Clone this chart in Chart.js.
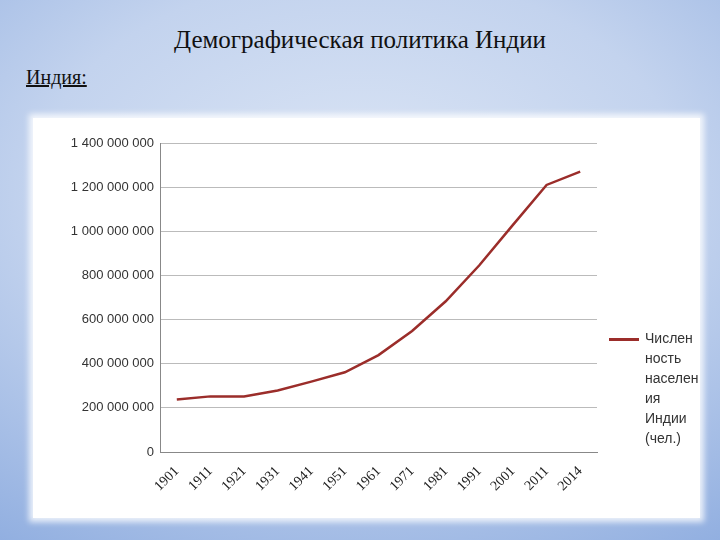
<!DOCTYPE html>
<html><head><meta charset="utf-8">
<script src="https://cdn.jsdelivr.net/npm/chart.js@4"></script>
<style>
html,body{margin:0;padding:0;}
body{width:720px;height:540px;position:relative;overflow:hidden;
background:radial-gradient(ellipse 90% 80% at 50% 35%,#dbe5f5 0%,#c3d3ee 50%,#90aee0 100%);
font-family:"Liberation Serif",serif;}
#title{position:absolute;top:26px;left:0;width:720px;text-align:center;font-size:25px;color:#111;}
#sub{position:absolute;top:66px;left:26px;font-size:20px;text-decoration:underline;color:#111;}
#box{position:absolute;left:33px;top:118px;width:667px;height:400px;background:#fff;box-shadow:0 0 6px 4px rgba(255,255,255,0.8);}
#legend{position:absolute;left:574px;top:210px;width:93px;overflow:hidden;font-family:"Liberation Sans",sans-serif;font-size:14px;line-height:20px;color:#333;white-space:nowrap;}
#legend i{position:absolute;left:2px;top:10px;width:30px;height:3px;background:#9b2d2a;}
#legend div{margin-left:38px;}
</style></head><body>
<div id="title">Демографическая политика Индии</div>
<div id="sub">Индия:</div>
<div id="box"><canvas id="c" width="667" height="400"></canvas>
<div id="legend"><i></i><div>Числен<br>ность<br>населен<br>ия<br>Индии<br>(чел.)</div></div></div>
<script>
const years = ['1901','1911','1921','1931','1941','1951','1961','1971','1981','1991','2001','2011','2014'];
const population = [238e6,252e6,251e6,279e6,319e6,361e6,439e6,548e6,683e6,846e6,1029e6,1210e6,1270e6];
const fmt = v => String(v).replace(/\B(?=(\d{3})+(?!\d))/g, ' ');
new Chart('c', {
  type: 'line',
  data: { labels: years, datasets: [{ label: 'Численность населения Индии (чел.)', data: population,
    borderColor: '#9b2d2a', borderWidth: 2.5, pointRadius: 0, tension: 0 }] },
  options: {
    responsive: false, animation: false,
    layout: { padding: { top: 25, right: 103, left: 0, bottom: 0 } },
    plugins: { legend: { display: false }, tooltip: { enabled: false } },
    scales: {
      x: { offset: true, grid: { display: false, drawTicks: true },
        border: { color: '#888' },
        ticks: { color: '#222', maxRotation: 45, minRotation: 45, font: { family: 'Liberation Serif', size: 14 } },
        afterFit: s => { s.height = 66; } },
      y: { min: 0, max: 1.4e9, grid: { color: '#bbb', drawTicks: false }, border: { color: '#888' },
        ticks: { stepSize: 2e8, padding: 6, color: '#333', callback: fmt, font: { family: 'Liberation Sans', size: 13 } },
        afterFit: s => { s.width = 127; } }
    }
  }
});
</script>
</body></html>
